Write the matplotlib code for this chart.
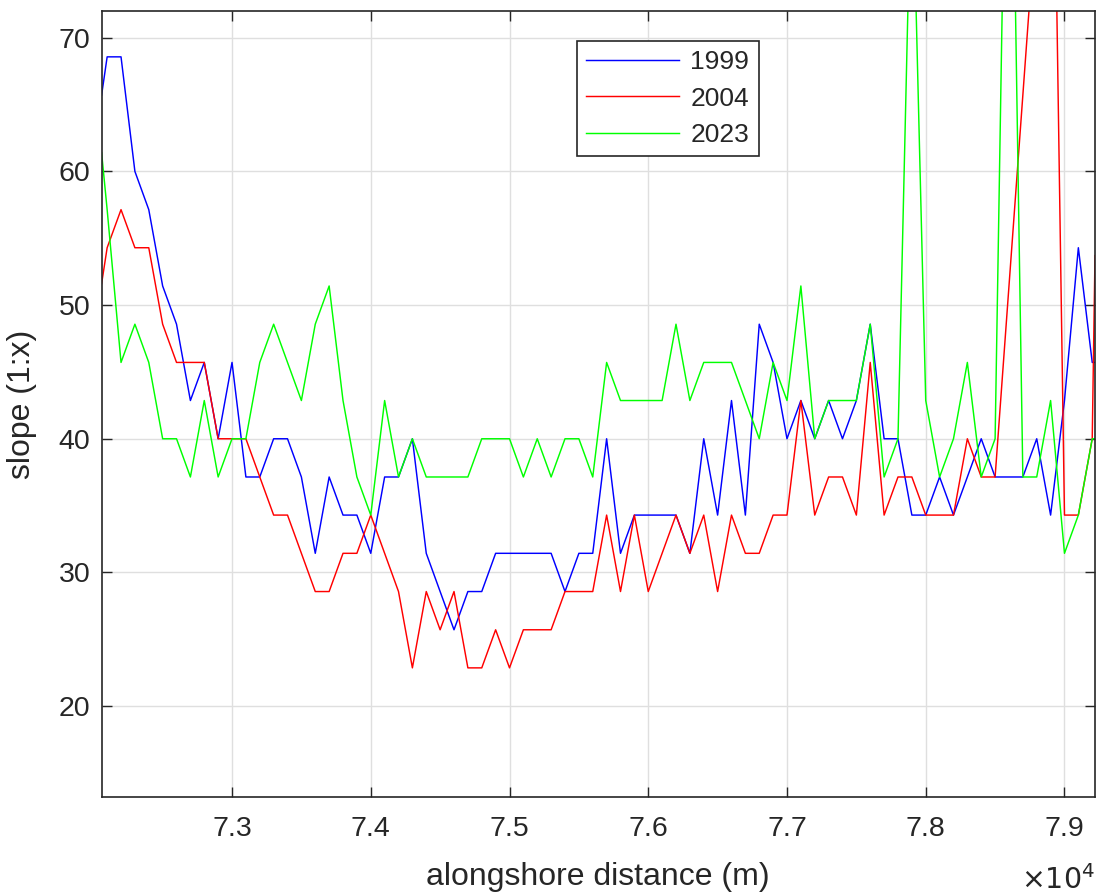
import numpy as np
import matplotlib
matplotlib.use("Agg")
import matplotlib.pyplot as plt
from matplotlib.ticker import FuncFormatter

plt.rcParams["font.family"] = ["Liberation Sans", "DejaVu Sans"]

# alongshore positions (m): transect start, every 100 m, transect end
distance = np.concatenate([[72060], np.arange(72100, 79201, 100), [79220]])

slope_1999 = [65.71,
              68.57, 68.57, 60.00, 57.14, 51.43, 48.57, 42.86, 45.71, 40.00, 45.71,
              37.14, 37.14, 40.00, 40.00, 37.14, 31.43, 37.14, 34.29, 34.29, 31.43,
              37.14, 37.14, 40.00, 31.43, 28.57, 25.71, 28.57, 28.57, 31.43, 31.43,
              31.43, 31.43, 31.43, 28.57, 31.43, 31.43, 40.00, 31.43, 34.29, 34.29,
              34.29, 34.29, 31.43, 40.00, 34.29, 42.86, 34.29, 48.57, 45.71, 40.00,
              42.86, 40.00, 42.86, 40.00, 42.86, 48.57, 40.00, 40.00, 34.29, 34.29,
              37.14, 34.29, 37.14, 40.00, 37.14, 37.14, 37.14, 40.00, 34.29, 42.86,
              54.29, 45.71,
              45.71]

slope_2004 = [51.60,
              54.29, 57.14, 54.29, 54.29, 48.57, 45.71, 45.71, 45.71, 40.00, 40.00,
              40.00, 37.14, 34.29, 34.29, 31.43, 28.57, 28.57, 31.43, 31.43, 34.29,
              31.43, 28.57, 22.86, 28.57, 25.71, 28.57, 22.86, 22.86, 25.71, 22.86,
              25.71, 25.71, 25.71, 28.57, 28.57, 28.57, 34.29, 28.57, 34.29, 28.57,
              31.43, 34.29, 31.43, 34.29, 28.57, 34.29, 31.43, 31.43, 34.29, 34.29,
              42.86, 34.29, 37.14, 37.14, 34.29, 45.71, 34.29, 37.14, 37.14, 34.29,
              34.29, 34.29, 40.00, 37.14, 37.14, 51.43, 65.71, 80.00, 103.00, 34.29,
              34.29, 40.00,
              53.70]

slope_2023 = [61.40,
              57.14, 45.71, 48.57, 45.71, 40.00, 40.00, 37.14, 42.86, 37.14, 40.00,
              40.00, 45.71, 48.57, 45.71, 42.86, 48.57, 51.43, 42.86, 37.14, 34.29,
              42.86, 37.14, 40.00, 37.14, 37.14, 37.14, 37.14, 40.00, 40.00, 40.00,
              37.14, 40.00, 37.14, 40.00, 40.00, 37.14, 45.71, 42.86, 42.86, 42.86,
              42.86, 48.57, 42.86, 45.71, 45.71, 45.71, 42.86, 40.00, 45.71, 42.86,
              51.43, 40.00, 42.86, 42.86, 42.86, 48.57, 37.14, 40.00, 85.00, 42.86,
              37.14, 40.00, 45.71, 37.14, 40.00, 103.00, 37.14, 37.14, 42.86, 31.43,
              34.29, 40.00,
              40.00]

years = ["1999", "2004", "2023"]
line_colors = ["#0000ff", "#ff0000", "#00ff00"]
x_ticks = [73000, 74000, 75000, 76000, 77000, 78000, 79000]
y_ticks = [20, 30, 40, 50, 60, 70]

W, H = 1099, 893
fig = plt.figure(figsize=(W / 100, H / 100), dpi=100)
left, right, top, bottom = 101.6, 1095.0, 11.0, 797.0
ax = fig.add_axes([left / W, 1 - bottom / H, (right - left) / W, (bottom - top) / H])

for vals, year, col in zip([slope_1999, slope_2004, slope_2023], years, line_colors):
    ax.plot(distance, vals, color=col, lw=1.05, label=year)

ax.set_xlim(72060, 79220)
ax.set_ylim(13.2, 72.0)
ax.set_xticks(x_ticks)
ax.set_yticks(y_ticks)
ax.xaxis.set_major_formatter(FuncFormatter(lambda v, p: f"{v / 1e4:.1f}"))

dark = "#262626"
tick_fs = 20.5
label_fs = 23
ax.grid(True, color="#dfdfdf", lw=1.0)
ax.set_axisbelow(True)
ax.tick_params(direction="in", length=7, width=1.0, colors=dark,
               labelsize=tick_fs, top=True, right=True)
ax.tick_params(axis="x", pad=14)
ax.tick_params(axis="y", pad=8)
for sp in ax.spines.values():
    sp.set_color(dark)
    sp.set_linewidth(1.2)

ax.set_xlabel("alongshore distance (m)", fontsize=label_fs, color=dark)
ax.xaxis.set_label_coords(0.5, (bottom - 877) / (bottom - top))
ax.xaxis.label.set_va("center")
ax.set_ylabel("slope (1:x)", fontsize=label_fs, color=dark)
ax.yaxis.set_label_coords((22 - left) / (right - left), 0.5)
ax.yaxis.label.set_va("center")

fig.text(right / W, 1 - 889 / H, r"$\times 10^{4}$", ha="right", va="baseline",
         fontsize=tick_fs, color=dark)

leg = ax.legend(loc="upper left", bbox_to_anchor=(577 / W, 1 - 41 / H),
                bbox_transform=fig.transFigure, borderaxespad=0,
                fancybox=False, framealpha=1, edgecolor=dark,
                fontsize=19, handlelength=3.5, handletextpad=0.45,
                labelspacing=0.47, borderpad=0.35)
leg.get_frame().set_linewidth(1.2)
for t in leg.get_texts():
    t.set_color(dark)

fig.savefig("out.png", dpi=100)
